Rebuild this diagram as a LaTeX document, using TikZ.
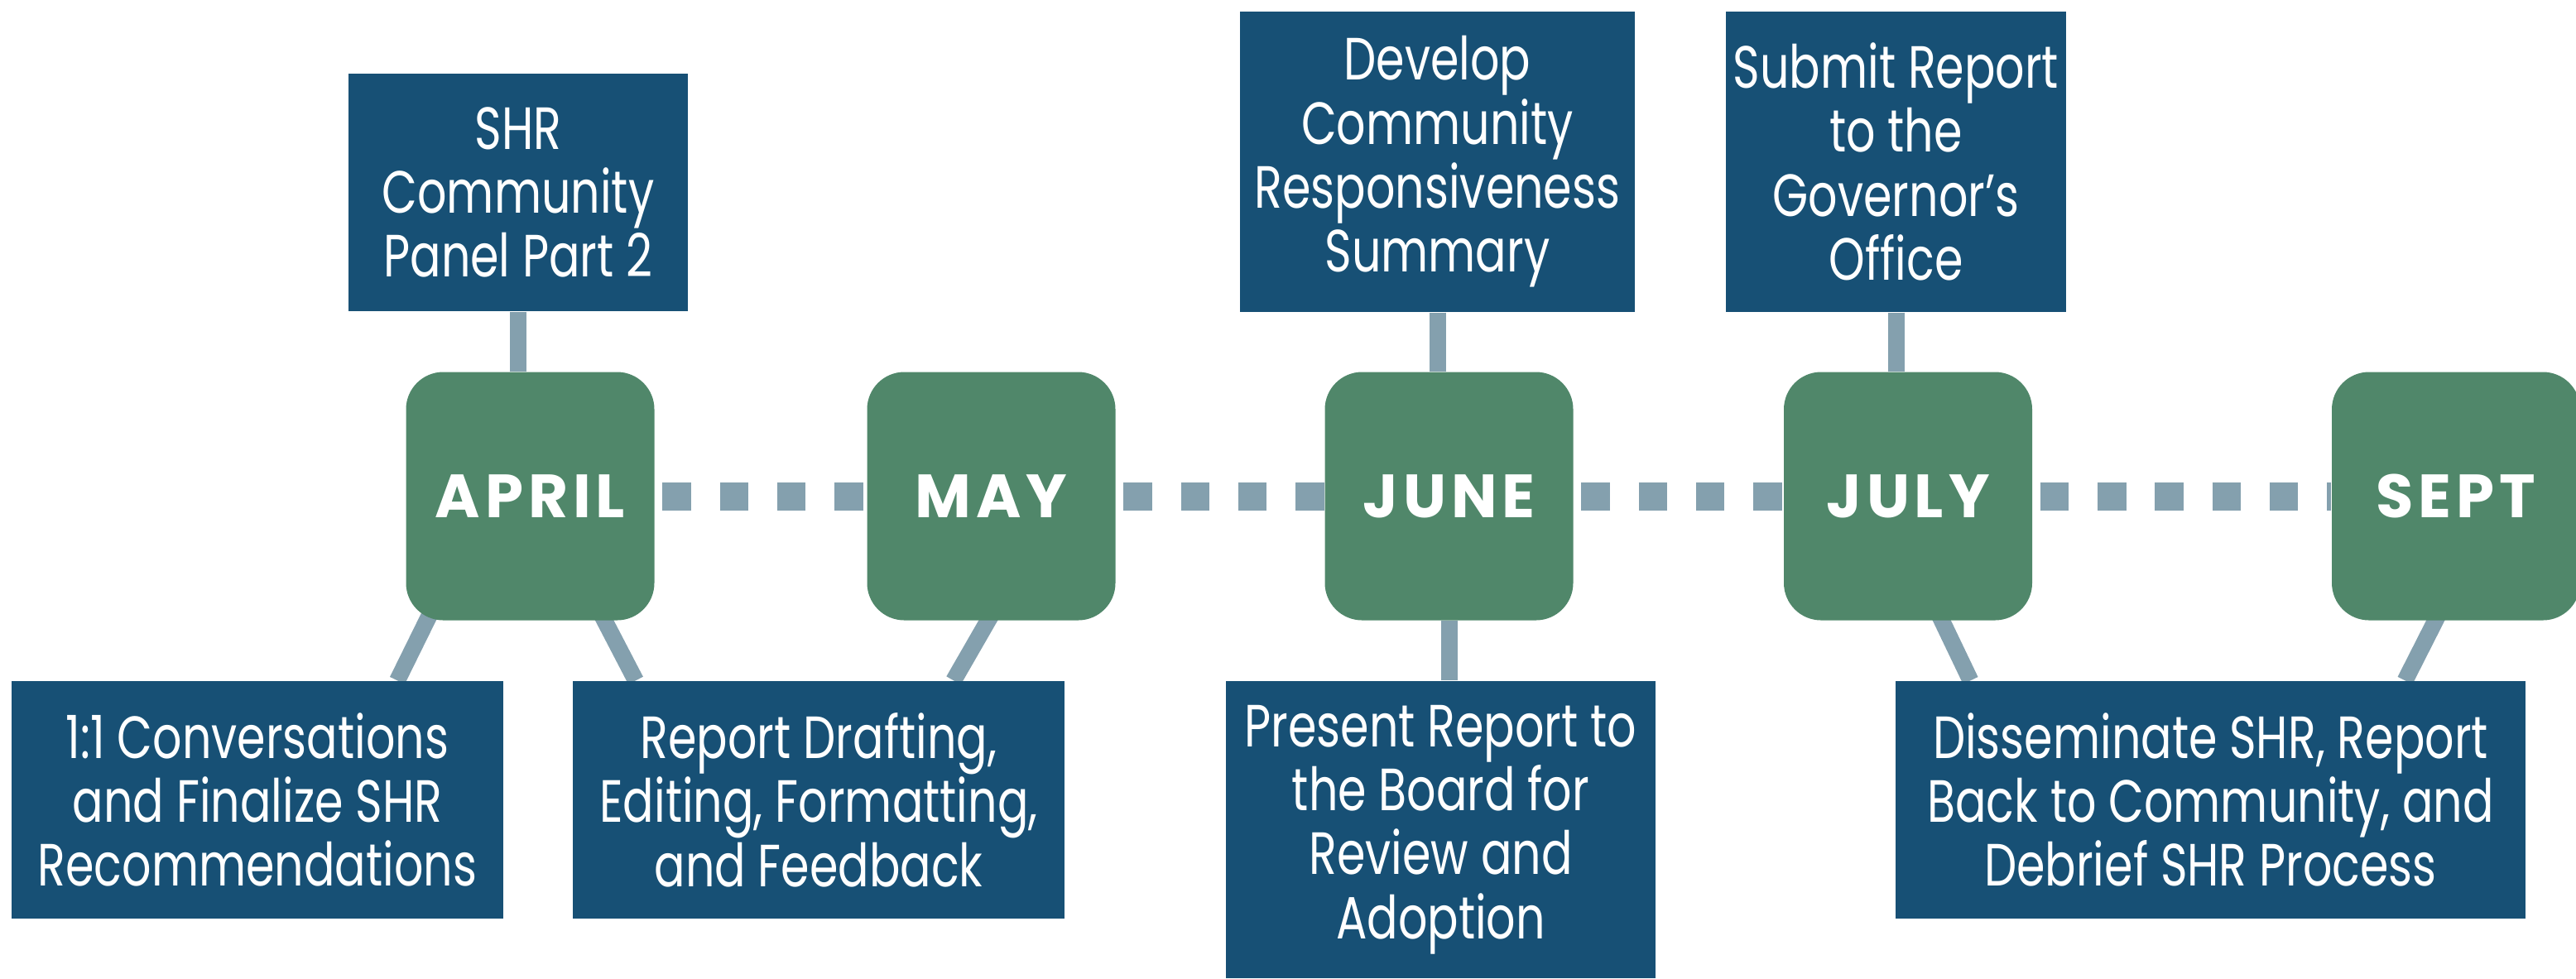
\documentclass[tikz,border=0pt]{standalone}
\usepackage{fontspec}
\setmainfont{Poppins}
\newfontfamily\taskfont[FakeStretch=0.77]{Poppins}
\newfontfamily\monthfont[LetterSpace=8]{Poppins}
\usetikzlibrary{backgrounds}
\definecolor{shrblue}{HTML}{175075}
\definecolor{shrgreen}{HTML}{50876A}
\definecolor{shrgray}{HTML}{84A0AE}
\tikzset{
  month/.style={fill=shrgreen, rounded corners=0.45cm, minimum width=3cm, minimum height=3cm,
    inner sep=0pt, text=white, font=\monthfont\bfseries\fontsize{21}{24}\selectfont},
  task/.style={fill=shrblue, inner sep=0pt, text=white, align=center,
    font=\taskfont\fontsize{20.5}{22}\selectfont},
  link/.style={draw=shrgray, line width=0.2cm},
  dotline/.style={draw=shrgray, line width=0.34cm, dash pattern=on 0.345cm off 0.348cm, shorten <=0.09cm},
}

\begin{document}
\begin{tikzpicture}
  \useasboundingbox (0,0) rectangle (31.12,-11.82);
  % months
  \node[month] (april) at (6.405,-5.995) {APRIL};
  \node[month] (may) at (11.975,-5.995) {MAY};
  \node[month] (june) at (17.505,-5.995) {JUNE};
  \node[month] (july) at (23.05,-5.995) {JULY};
  \node[month] (sept) at (29.67,-5.995) {SEPT};
  % tasks above
  \node[task, minimum width=4.10cm, minimum height=2.87cm] (panel) at (6.26,-2.325) {SHR\\Community\\Panel Part 2};
  \node[task, minimum width=4.77cm, minimum height=3.63cm] (summary) at (17.365,-1.955) {Develop\\Community\\Responsiveness\\Summary};
  \node[task, minimum width=4.11cm, minimum height=3.63cm] (submit) at (22.905,-1.955) {Submit Report\\to the\\Governor’s\\Office};
  % tasks below
  \node[task, minimum width=5.94cm, minimum height=2.87cm] (conv) at (3.11,-9.665) {1:1 Conversations\\and Finalize SHR\\Recommendations};
  \node[task, minimum width=5.94cm, minimum height=2.87cm] (draft) at (9.89,-9.665) {Report Drafting,\\Editing, Formatting,\\and Feedback};
  \node[task, minimum width=5.19cm, minimum height=3.59cm] (present) at (17.405,-10.025) {Present Report to\\the Board for\\Review and\\Adoption};
  \node[task, minimum width=7.61cm, minimum height=2.87cm] (diss) at (26.705,-9.665) {Disseminate SHR, Report\\Back to Community, and\\Debrief SHR Process};
  \begin{scope}[on background layer]
    \foreach \a/\b in {april/may, may/june, june/july, july/sept}
      \draw[dotline] (\a.east) -- (\b.west);
    \draw[link] (panel.south) -- (panel.south |- april.north);
    \draw[link] (summary.south) -- (summary.south |- june.north);
    \draw[link] (submit.south) -- (submit.south |- july.north);
    \draw[link] (june.south) -- (june.south |- present.north);
    \draw[link, shorten <=-0.3cm] ([xshift=-1.25cm]april.south) -- ([xshift=1.69cm]conv.north);
    \draw[link, shorten <=-0.3cm] ([xshift=0.9cm]april.south) -- ([xshift=-2.21cm]draft.north);
    \draw[link, shorten <=-0.3cm] ([xshift=-0.04cm]may.south) -- ([xshift=1.63cm]draft.north);
    \draw[link, shorten <=-0.3cm] ([xshift=0.41cm]july.south) -- ([xshift=-2.9cm]diss.north);
    \draw[link, shorten <=-0.3cm] ([xshift=-0.25cm]sept.south) -- ([xshift=2.35cm]diss.north);
  \end{scope}
\end{tikzpicture}
\end{document}
